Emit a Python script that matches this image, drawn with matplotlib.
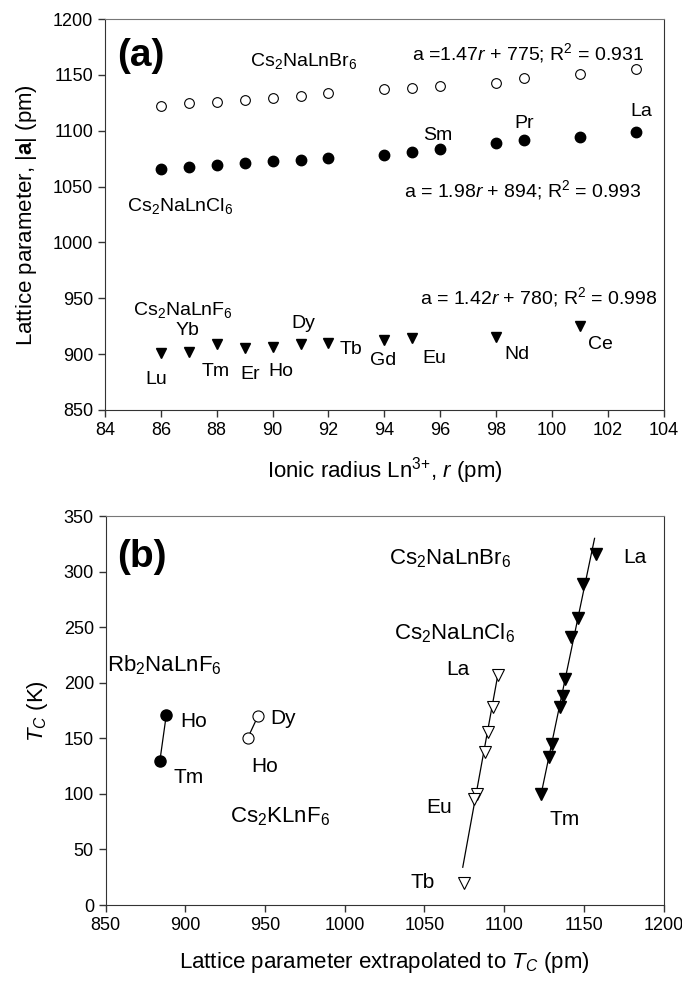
import numpy as np
import matplotlib
matplotlib.use("Agg")
import matplotlib.pyplot as plt

plt.rcParams['font.family'] = ['Liberation Sans', 'DejaVu Sans']
plt.rcParams['mathtext.fontset'] = 'custom'
plt.rcParams['mathtext.rm'] = 'Liberation Sans'
plt.rcParams['mathtext.it'] = 'Liberation Sans:italic'
plt.rcParams['mathtext.bf'] = 'Liberation Sans:bold'

# ---- panel (a): lattice parameter vs ionic radius ----
r_br = [86, 87, 88, 89, 90, 91, 92, 94, 95, 96, 98, 99, 101, 103]
a_br = [1122, 1125, 1125.5, 1128, 1129, 1131, 1134, 1137, 1138, 1140, 1142.5, 1147, 1151, 1155]
r_cl = [86, 87, 88, 89, 90, 91, 92, 94, 95, 96, 98, 99, 101, 103]
a_cl = [1066, 1068, 1069, 1071, 1073, 1074, 1076, 1078.5, 1081, 1083.5, 1089, 1091.5, 1094.5, 1099]
r_f = [86, 87, 88, 89, 90, 91, 92, 94, 95, 98, 101]
a_f = [900.6, 901.5, 909, 905.7, 906.6, 908.7, 910.2, 912.6, 914.7, 915.6, 925.2]
ln_f = ['Lu', 'Yb', 'Tm', 'Er', 'Ho', 'Dy', 'Tb', 'Gd', 'Eu', 'Nd', 'Ce']
ln_cl = {96: 'Sm', 99: 'Pr', 103: 'La'}

# ---- panel (b): Tc vs lattice parameter ----
a_br_b = [1157.9, 1149.5, 1146.4, 1142.2, 1138.4, 1136.7, 1135.3, 1130.1, 1128.0, 1123.2]
tc_br_b = [316, 289, 258, 241, 203, 188, 178, 145, 133, 100]
br_fit_a = [1123.2, 1156.7]
br_fit_tc = [100, 330]
a_cl_b = [1096, 1093, 1090, 1088, 1083, 1081, 1075]
tc_cl_b = [207, 178, 156, 138, 100, 95, 20]
cl_fit_a = [1074, 1096]
cl_fit_tc = [34, 207]
a_rb = [888, 884]          # Ho, Tm
tc_rb = [171, 130]
a_csk = [945.5, 939]       # Dy, Ho
tc_csk = [170, 150]

fig = plt.figure(figsize=(6.82, 9.82), dpi=100)
ax1 = fig.add_axes([0.154, 0.5825, 0.819, 0.398])
ax2 = fig.add_axes([0.155, 0.0784, 0.818, 0.396])

for ax in (ax1, ax2):
    for side in ['left', 'bottom', 'right']:
        ax.spines[side].set_color('#333333')
    ax.spines['top'].set_color('#777777')
    ax.tick_params(direction='out', length=5, width=1, labelsize=13,
                   top=False, right=False, colors='#333333', labelcolor='black')

# panel (a)
ax1.plot(r_br, a_br, 'o', ms=7, mfc='white', mec='black', mew=0.8)
ax1.plot(r_cl, a_cl, 'o', ms=7.5, color='black')
ax1.plot(r_f, a_f, 'v', ms=7, color='black')
ax1.set_xlim(84, 104)
ax1.set_ylim(850, 1200)
ax1.set_xticks(np.arange(84, 105, 2))
ax1.set_yticks(np.arange(850, 1201, 50))
ax1.set_xlabel(r'Ionic radius Ln$^{3{+}}$, $r$ (pm)', fontsize=16, labelpad=12)
ax1.set_ylabel(r'Lattice parameter, |$\mathbf{a}$| (pm)', fontsize=16, labelpad=10)

ax1.text(0.022, 0.905, '(a)', transform=ax1.transAxes, fontsize=28,
         fontweight='bold', va='center', ha='left')
ax1.text(89.2, 1158, r'Cs$_2$NaLnBr$_6$', fontsize=14, va='baseline')
ax1.text(103.3, 1164, r'a =1.47$r$ + 775; R$^2$ = 0.931', fontsize=14,
         ha='right', va='baseline')
ax1.text(84.8, 1028, r'Cs$_2$NaLnCl$_6$', fontsize=14, va='baseline')
ax1.text(103.2, 1041, r'a = 1.98$r$ + 894; R$^2$ = 0.993', fontsize=14,
         ha='right', va='baseline')
ax1.text(85.0, 935, r'Cs$_2$NaLnF$_6$', fontsize=14, va='baseline')
ax1.text(103.8, 945.5, r'a = 1.42$r$ + 780; R$^2$ = 0.998', fontsize=14,
         ha='right', va='baseline')

cl_off = {96: (-2, 10), 99: (0, 12), 103: (4, 15)}
for r, a in zip(r_cl, a_cl):
    if r in ln_cl:
        ax1.annotate(ln_cl[r], (r, a), xytext=cl_off[r], textcoords='offset points',
                     fontsize=14, ha='center', va='center')

f_off = [(-3, -19), (-1, 16), (-1, -20), (4, -19), (6, -18), (2, 15),
         (16, -5), (-1, -15), (16, -15), (15, -13), (15, -13)]
for r, a, name, off in zip(r_f, a_f, ln_f, f_off):
    ax1.annotate(name, (r, a), xytext=off, textcoords='offset points',
                 fontsize=14, ha='center', va='center')

# panel (b)
ax2.plot(br_fit_a, br_fit_tc, '-', color='black', lw=0.9, zorder=2)
ax2.plot(a_br_b, tc_br_b, 'v', ms=8.5, color='black', zorder=3)
ax2.plot(cl_fit_a, cl_fit_tc, '-', color='black', lw=0.9, zorder=2)
ax2.plot(a_cl_b, tc_cl_b, 'v', ms=8.5, mfc='white', mec='black', mew=0.8, zorder=3)
ax2.plot(a_rb, tc_rb, '-', color='black', lw=0.9, zorder=2)
ax2.plot(a_rb, tc_rb, 'o', ms=8, color='black', zorder=3)
ax2.plot(a_csk, tc_csk, '-', color='black', lw=0.9, zorder=2)
ax2.plot(a_csk, tc_csk, 'o', ms=8, mfc='white', mec='black', mew=0.8, zorder=3)
ax2.set_xlim(850, 1200)
ax2.set_ylim(0, 350)
ax2.set_xticks(np.arange(850, 1201, 50))
ax2.set_yticks(np.arange(0, 351, 50))
ax2.set_xlabel(r'Lattice parameter extrapolated to $T_C$ (pm)', fontsize=16, labelpad=12)
ax2.set_ylabel(r'$T_C$ (K)', fontsize=16, labelpad=10)

ax2.text(0.02, 0.895, '(b)', transform=ax2.transAxes, fontsize=28,
         fontweight='bold', va='center', ha='left')
ax2.text(1028, 307, r'Cs$_2$NaLnBr$_6$', fontsize=16, va='baseline')
ax2.text(1031, 239, r'Cs$_2$NaLnCl$_6$', fontsize=16, va='baseline')
ax2.text(851, 210, r'Rb$_2$NaLnF$_6$', fontsize=16, va='baseline')
ax2.text(928, 74, r'Cs$_2$KLnF$_6$', fontsize=16, va='baseline')
for x, y, s in [(1182, 313, 'La'), (1138, 77, 'Tm'), (1071, 212, 'La'),
                (1059, 88, 'Eu'), (1049, 20, 'Tb'), (905, 165, 'Ho'),
                (902, 115, 'Tm'), (961, 168, 'Dy'), (950, 125, 'Ho')]:
    ax2.text(x, y, s, fontsize=15, ha='center', va='center')

fig.savefig('out.png', dpi=100)
